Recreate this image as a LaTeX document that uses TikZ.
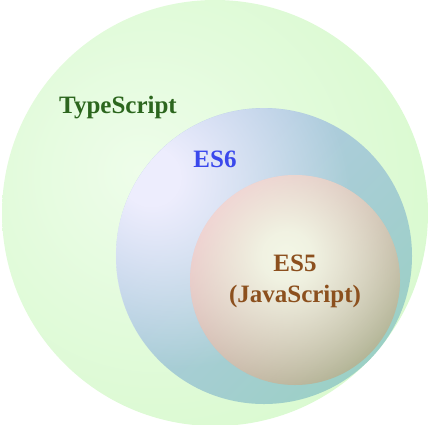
\documentclass[tikz,border=0pt]{standalone}
\usepackage{fontspec}
\setmainfont{Liberation Serif}
\usepackage{tikz}
\usetikzlibrary{fadings}

\definecolor{tsin}{RGB}{238,253,234}
\definecolor{tsmid}{RGB}{226,251,219}
\definecolor{tsout}{RGB}{211,248,199}
\definecolor{sixtl}{RGB}{180,202,230}
\definecolor{sixbr}{RGB}{156,208,198}
\definecolor{sixglow}{RGB}{237,237,253}
\definecolor{fivetl}{RGB}{238,192,200}
\definecolor{fivebr}{RGB}{172,174,142}
\definecolor{fiveglow}{RGB}{243,247,230}
\definecolor{tsgreen}{RGB}{44,102,30}
\definecolor{sixblue}{RGB}{58,72,236}
\definecolor{fivebrown}{RGB}{140,80,30}

\pgfdeclareradialshading{tsshade}{\pgfpoint{-9bp}{5bp}}{color(0bp)=(tsin); color(18bp)=(tsmid); color(45bp)=(tsout); color(100bp)=(tsout)}
\pgfdeclareradialshading{sixfadeshade}{\pgfpoint{-20bp}{14bp}}{color(0bp)=(pgftransparent!0); color(5bp)=(pgftransparent!0); color(29bp)=(pgftransparent!100); color(100bp)=(pgftransparent!100)}
\pgfdeclareradialshading{fivefadeshade}{\pgfpoint{-2bp}{6bp}}{color(0bp)=(pgftransparent!0); color(6bp)=(pgftransparent!8); color(32bp)=(pgftransparent!100); color(100bp)=(pgftransparent!100)}
\pgfdeclarefading{sixfade}{\pgfuseshading{sixfadeshade}}
\pgfdeclarefading{fivefade}{\pgfuseshading{fivefadeshade}}

\tikzset{
    setlabel/.style={font=\fontsize{25}{31}\selectfont\bfseries, align=center, inner sep=0pt}
}

\begin{document}
\begin{tikzpicture}[x=1pt,y=-1pt]
    \useasboundingbox (0,0) rectangle (430,424);

    % TypeScript
    \shade[shading=tsshade] (215,213) circle (213);
    % ES6
    \shade[top color=sixtl, bottom color=sixbr, shading angle=45] (264,256) circle (148);
    \fill[sixglow, path fading=sixfade] (264,256) circle (148);
    % ES5
    \shade[top color=fivetl, bottom color=fivebr, shading angle=45] (295,280) circle (105);
    \fill[fiveglow, path fading=fivefade] (295,280) circle (105);

    \node[setlabel, text=tsgreen] (ts) at (118,108) {TypeScript};
    \node[setlabel, text=sixblue] (es6) at (215,159) {ES6};
    \node[setlabel, text=fivebrown] (es5) at (295,281) {ES5\\(JavaScript)};
\end{tikzpicture}
\end{document}
